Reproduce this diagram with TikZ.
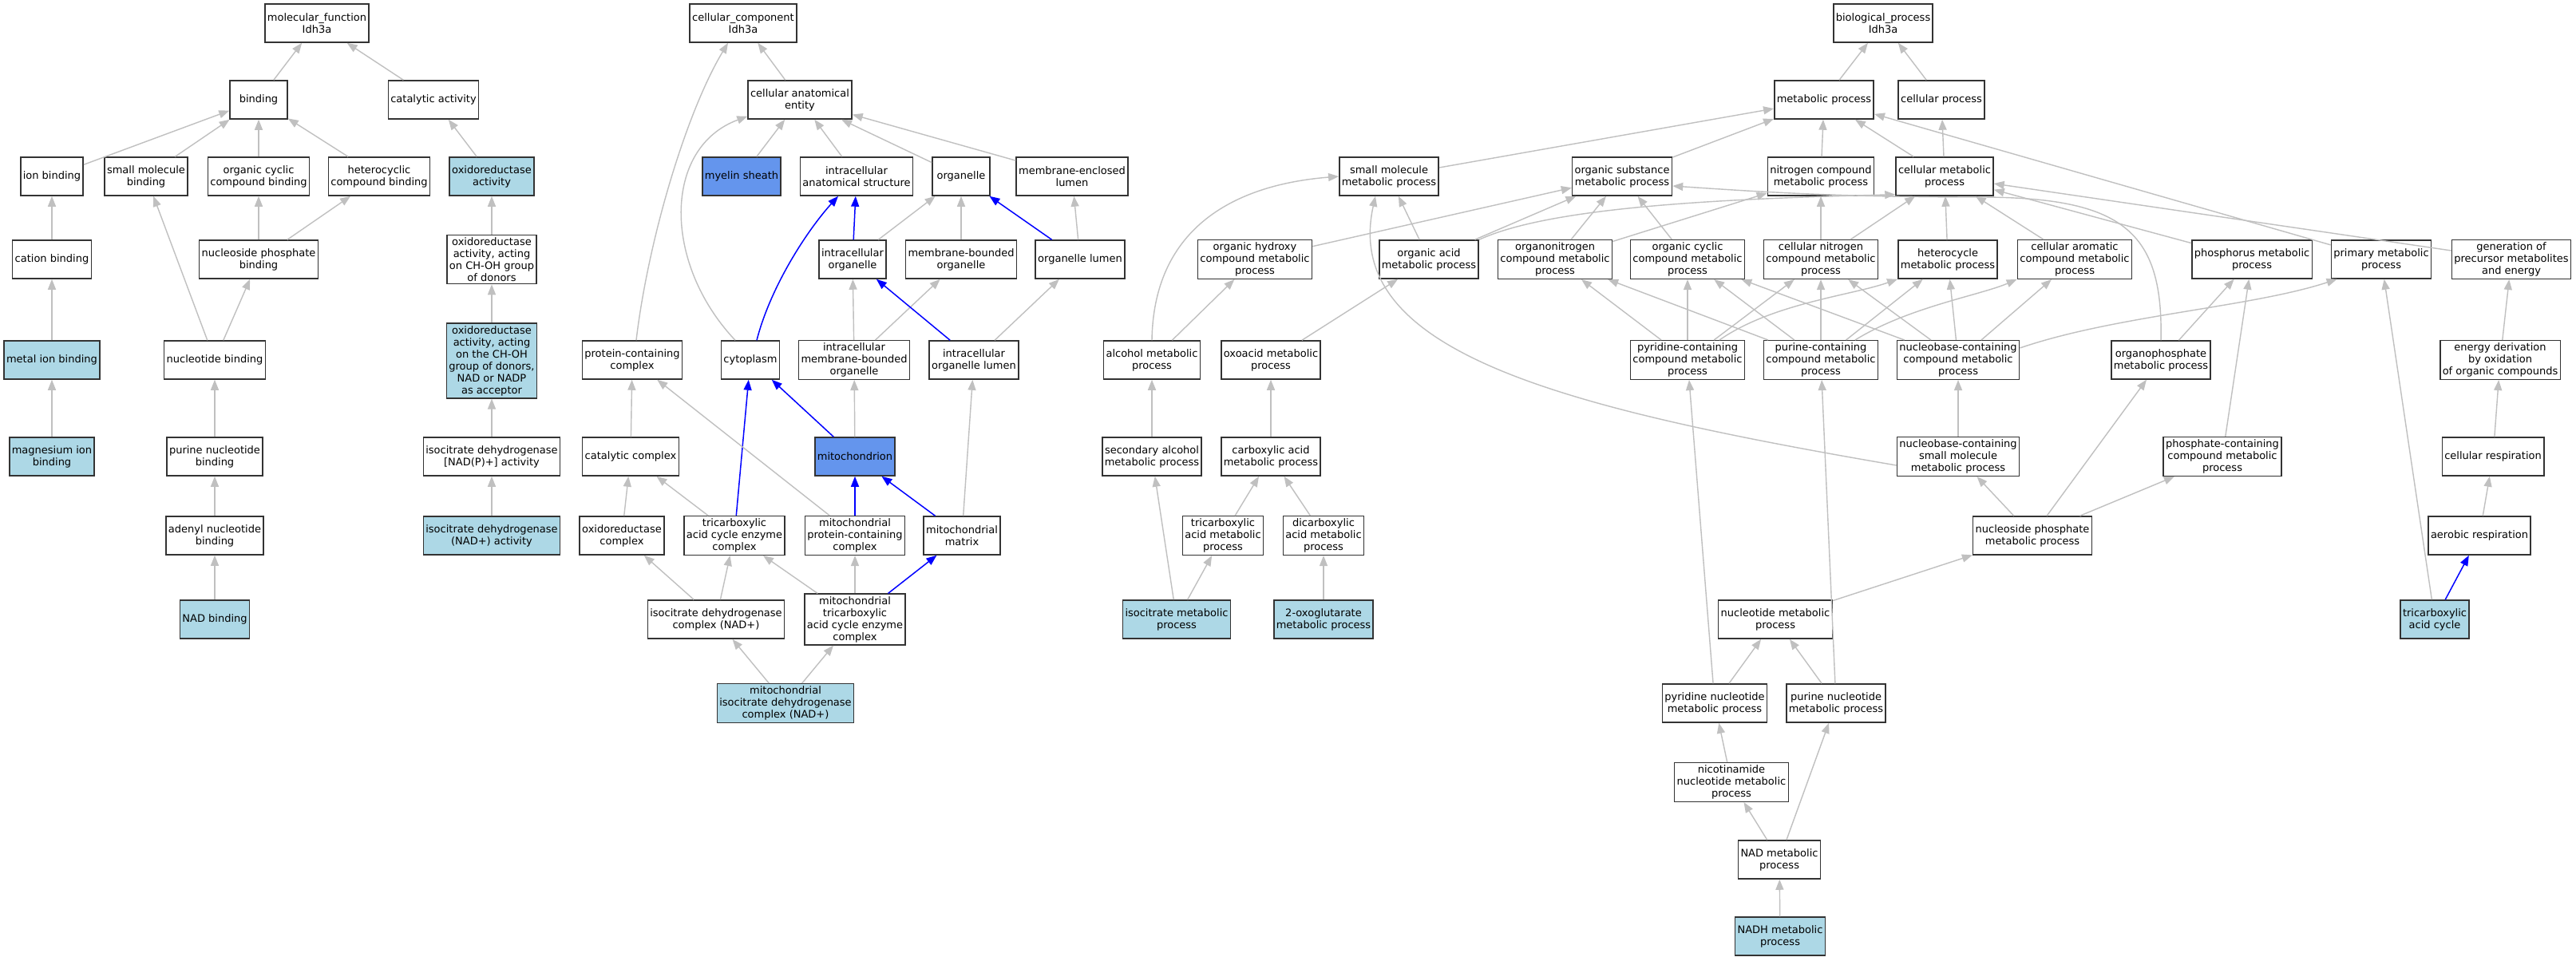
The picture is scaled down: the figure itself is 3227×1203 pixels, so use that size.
\documentclass[tikz,border=0pt]{standalone}
\usepackage{fontspec}
\setmainfont{DejaVu Sans}
\usetikzlibrary{arrows.meta}
\definecolor{edgegray}{RGB}{192,192,192}
\definecolor{termblue}{RGB}{173,216,230}
\definecolor{hitblue}{RGB}{100,149,237}

\begin{document}
\begin{tikzpicture}[x=1pt,y=-1pt,
  term/.style={draw=black!80,line width=1.5pt,fill=white,minimum width=72pt,minimum height=48pt,
    inner xsep=3pt,inner ysep=3pt,align=center,font=\fontsize{13}{15}\selectfont},
  hit/.style={term,fill=termblue},
  cellhit/.style={term,fill=hitblue},
  isa/.style={draw=edgegray,line width=1.4pt,-{Triangle[length=13pt,width=10pt]}},
  partof/.style={draw=blue,line width=1.5pt,-{Triangle[length=13pt,width=10pt]}}]
\useasboundingbox[fill=white] (0,0) rectangle (3227,1203);

% molecular function
\node[term] (mf) at (397,29) {molecular\_function\\Idh3a};
\node[term] (binding) at (324,125) {binding};
\node[term] (catact) at (543,125) {catalytic activity};
\node[term] (ionb) at (65,221) {ion binding};
\node[term] (smolb) at (183,221) {small molecule\\binding};
\node[term] (ocycb) at (324,221) {organic cyclic\\compound binding};
\node[term] (hcycb) at (475,221) {heterocyclic\\compound binding};
\node[hit] (oxred) at (616,221) {oxidoreductase\\activity};
\node[term] (cationb) at (65,325) {cation binding};
\node[term] (nphosb) at (324,325) {nucleoside phosphate\\binding};
\node[term] (oxchoh) at (616,325) {oxidoreductase\\activity, acting\\on CH-OH group\\of donors};
\node[hit] (metalb) at (65,451) {metal ion binding};
\node[term] (nucb) at (269,451) {nucleotide binding};
\node[hit] (oxnad) at (616,452) {oxidoreductase\\activity, acting\\on the CH-OH\\group of donors,\\NAD or NADP\\as acceptor};
\node[hit] (mgb) at (65,572) {magnesium ion\\binding};
\node[term] (purnb) at (269,572) {purine nucleotide\\binding};
\node[term] (idhnadp) at (616,572) {isocitrate dehydrogenase\\{[NAD(P)+]} activity};
\node[term] (adenb) at (269,671) {adenyl nucleotide\\binding};
\node[hit] (idhnad) at (616,671) {isocitrate dehydrogenase\\(NAD+) activity};
\node[hit] (nadb) at (269,776) {NAD binding};

% cellular component
\node[term] (cc) at (931,29) {cellular\_component\\Idh3a};
\node[term] (cae) at (1002,125) {cellular anatomical\\entity};
\node[cellhit] (myelin) at (929,221) {myelin sheath};
\node[term] (ias) at (1073,221) {intracellular\\anatomical structure};
\node[term] (organelle) at (1204,221) {organelle};
\node[term] (mel) at (1343,221) {membrane-enclosed\\lumen};
\node[term] (iorg) at (1068,325) {intracellular\\organelle};
\node[term] (mbo) at (1204,325) {membrane-bounded\\organelle};
\node[term] (olumen) at (1353,325) {organelle lumen};
\node[term] (protc) at (792,451) {protein-containing\\complex};
\node[term] (cyto) at (940,451) {cytoplasm};
\node[term] (imbo) at (1070,451) {intracellular\\membrane-bounded\\organelle};
\node[term] (iol) at (1220,451) {intracellular\\organelle lumen};
\node[term] (catc) at (790,572) {catalytic complex};
\node[cellhit] (mito) at (1071,572) {mitochondrion};
\node[term] (oxc) at (779,671) {oxidoreductase\\complex};
\node[term] (tcac) at (920,671) {tricarboxylic\\acid cycle enzyme\\complex};
\node[term] (mprot) at (1071,671) {mitochondrial\\protein-containing\\complex};
\node[term] (mmatrix) at (1205,671) {mitochondrial\\matrix};
\node[term] (idhc) at (897,776) {isocitrate dehydrogenase\\complex (NAD+)};
\node[term] (mtcac) at (1071,776) {mitochondrial\\tricarboxylic\\acid cycle enzyme\\complex};
\node[hit] (midhc) at (984,881) {mitochondrial\\isocitrate dehydrogenase\\complex (NAD+)};

% biological process
\node[term] (bp) at (2359,29) {biological\_process\\Idh3a};
\node[term] (metp) at (2285,125) {metabolic process};
\node[term] (cellp) at (2432,125) {cellular process};
\node[term] (smp) at (1740,221) {small molecule\\metabolic process};
\node[term] (osmp) at (2032,221) {organic substance\\metabolic process};
\node[term] (ncmp) at (2281,221) {nitrogen compound\\metabolic process};
\node[term] (cmp) at (2436,221) {cellular metabolic\\process};
\node[term] (ohcmp) at (1572,325) {organic hydroxy\\compound metabolic\\process};
\node[term] (oamp) at (1790,325) {organic acid\\metabolic process};
\node[term] (onmp) at (1948,325) {organonitrogen\\compound metabolic\\process};
\node[term] (occmp) at (2114,325) {organic cyclic\\compound metabolic\\process};
\node[term] (cncmp) at (2281,325) {cellular nitrogen\\compound metabolic\\process};
\node[term] (hmp) at (2440,325) {heterocycle\\metabolic process};
\node[term] (camp) at (2599,325) {cellular aromatic\\compound metabolic\\process};
\node[term] (phmp) at (2821,325) {phosphorus metabolic\\process};
\node[term] (primp) at (2983,325) {primary metabolic\\process};
\node[term] (gpme) at (3146,325) {generation of\\precursor metabolites\\and energy};
\node[term] (alcmp) at (1443,451) {alcohol metabolic\\process};
\node[term] (oxomp) at (1592,451) {oxoacid metabolic\\process};
\node[term] (pycmp) at (2114,451) {pyridine-containing\\compound metabolic\\process};
\node[term] (pucmp) at (2281,451) {purine-containing\\compound metabolic\\process};
\node[term] (nbcmp) at (2453,451) {nucleobase-containing\\compound metabolic\\process};
\node[term] (opmp) at (2707,451) {organophosphate\\metabolic process};
\node[term] (edox) at (3132,451) {energy derivation\\by oxidation\\of organic compounds};
\node[term] (salcmp) at (1443,572) {secondary alcohol\\metabolic process};
\node[term] (caamp) at (1592,572) {carboxylic acid\\metabolic process};
\node[term] (nbsmp) at (2453,572) {nucleobase-containing\\small molecule\\metabolic process};
\node[term] (pcmp) at (2784,572) {phosphate-containing\\compound metabolic\\process};
\node[term] (cresp) at (3123,572) {cellular respiration};
\node[term] (tcamp) at (1532,671) {tricarboxylic\\acid metabolic\\process};
\node[term] (dcamp) at (1658,671) {dicarboxylic\\acid metabolic\\process};
\node[term] (nspmp) at (2546,671) {nucleoside phosphate\\metabolic process};
\node[term] (aresp) at (3106,671) {aerobic respiration};
\node[hit] (icmp) at (1474,776) {isocitrate metabolic\\process};
\node[hit] (oxgmp) at (1658,776) {2-oxoglutarate\\metabolic process};
\node[term] (ntmp) at (2224,776) {nucleotide metabolic\\process};
\node[hit] (tca) at (3050,776) {tricarboxylic\\acid cycle};
\node[term] (pynmp) at (2148,881) {pyridine nucleotide\\metabolic process};
\node[term] (punmp) at (2300,881) {purine nucleotide\\metabolic process};
\node[term] (nicmp) at (2169,980) {nicotinamide\\nucleotide metabolic\\process};
\node[term] (nadmp) at (2229,1077) {NAD metabolic\\process};
\node[hit] (nadhmp) at (2230,1173) {NADH metabolic\\process};

% molecular function edges
\draw[isa] (binding) -- (mf);
\draw[isa] (catact) -- (mf);
\draw[isa] (ionb) -- (binding);
\draw[isa] (smolb) -- (binding);
\draw[isa] (ocycb) -- (binding);
\draw[isa] (hcycb) -- (binding);
\draw[isa] (oxred) -- (catact);
\draw[isa] (cationb) -- (ionb);
\draw[isa] (nphosb) -- (ocycb);
\draw[isa] (nphosb) -- (hcycb);
\draw[isa] (oxchoh) -- (oxred);
\draw[isa] (metalb) -- (cationb);
\draw[isa] (nucb) -- (smolb);
\draw[isa] (nucb) -- (nphosb);
\draw[isa] (oxnad) -- (oxchoh);
\draw[isa] (mgb) -- (metalb);
\draw[isa] (purnb) -- (nucb);
\draw[isa] (idhnadp) -- (oxnad);
\draw[isa] (adenb) -- (purnb);
\draw[isa] (idhnad) -- (idhnadp);
\draw[isa] (nadb) -- (adenb);

% cellular component edges
\draw[isa] (cae) -- (cc);
\draw[isa] ([xshift=5pt]protc.north) .. controls (812,300) and (860,140) .. ([xshift=-19pt]cc.south);
\draw[isa] (myelin) -- (cae);
\draw[isa] (ias) -- (cae);
\draw[isa] (organelle) -- (cae);
\draw[isa] (mel) -- (cae);
\draw[isa] ([xshift=-19pt]cyto.north) .. controls (830,330) and (830,185) .. ([yshift=4pt]cae.south west);
\draw[partof] (iorg) -- (ias);
\draw[isa] (iorg) -- (organelle);
\draw[isa] (mbo) -- (organelle);
\draw[partof] (olumen) -- (organelle);
\draw[isa] (olumen) -- (mel);
\draw[partof] ([xshift=8pt]cyto.north) .. controls (965,360) and (1010,290) .. ([xshift=-23pt]ias.south);
\draw[isa] (imbo) -- (iorg);
\draw[isa] (imbo) -- (mbo);
\draw[partof] (iol) -- (iorg);
\draw[isa] (iol) -- (olumen);
\draw[isa] (catc) -- (protc);
\draw[partof] (mito) -- (cyto);
\draw[isa] (mito) -- (imbo);
\draw[isa] (tcac) -- (catc);
\draw[partof] (tcac) -- (cyto);
\draw[isa] (mprot) -- (protc);
\draw[partof] (mprot) -- (mito);
\draw[partof] (mmatrix) -- (mito);
\draw[isa] (mmatrix) -- (iol);
\draw[isa] (oxc) -- (catc);
\draw[isa] (idhc) -- (oxc);
\draw[isa] (idhc) -- (tcac);
\draw[isa] (mtcac) -- (tcac);
\draw[isa] (mtcac) -- (mprot);
\draw[partof] (mtcac) -- (mmatrix);
\draw[isa] (midhc) -- (idhc);
\draw[isa] (midhc) -- (mtcac);

% biological process edges
\draw[isa] (metp) -- (bp);
\draw[isa] (cellp) -- (bp);
\draw[isa] (smp) -- (metp);
\draw[isa] (osmp) -- (metp);
\draw[isa] (ncmp) -- (metp);
\draw[isa] (cmp) -- (metp);
\draw[isa] (cmp) -- (cellp);
\draw[isa] (primp) -- (metp);
\draw[isa] (ohcmp) -- (osmp);
\draw[isa] (oamp) -- (smp);
\draw[isa] (oamp) -- (osmp);
\draw[isa] (oamp.north east) .. controls (1930,265) and (2100,250) .. ([yshift=2pt]cmp.south west);
\draw[isa] (onmp) -- (osmp);
\draw[isa] (onmp) -- (ncmp);
\draw[isa] (occmp) -- (osmp);
\draw[isa] (cncmp) -- (ncmp);
\draw[isa] (cncmp) -- (cmp);
\draw[isa] (hmp) -- (cmp);
\draw[isa] (camp) -- (cmp);
\draw[isa] (phmp) -- (cmp);
\draw[isa] (gpme) -- (cmp);
\draw[isa] (alcmp.north) .. controls (1445,290) and (1540,232) .. (smp.west);
\draw[isa] (alcmp) -- (ohcmp);
\draw[isa] (oxomp) -- (oamp);
\draw[isa] (pycmp) -- (onmp);
\draw[isa] (pycmp) -- (occmp);
\draw[isa] (pycmp) -- (cncmp);
\draw[isa] ([xshift=40pt]pycmp.north) .. controls (2220,380) and (2320,370) .. (hmp.south west);
\draw[isa] (pucmp) -- (onmp);
\draw[isa] (pucmp) -- (occmp);
\draw[isa] (pucmp) -- (cncmp);
\draw[isa] (pucmp) -- (hmp);
\draw[isa] ([xshift=43pt]pucmp.north) .. controls (2390,385) and (2480,370) .. (camp.south west);
\draw[isa] (nbcmp) -- (occmp);
\draw[isa] (nbcmp) -- (cncmp);
\draw[isa] (nbcmp) -- (hmp);
\draw[isa] (nbcmp) -- (camp);
\draw[isa] ([yshift=15pt]nbcmp.east) .. controls (2650,395) and (2820,385) .. ([xshift=8pt]primp.south west);
\draw[isa] (opmp.north) .. controls (2710,290) and (2660,247) .. (2480,247) .. controls (2300,247) and (2200,240) .. ([yshift=-12pt]osmp.east);
\draw[isa] (opmp) -- (phmp);
\draw[isa] (edox) -- (gpme);
\draw[isa] (salcmp) -- (alcmp);
\draw[isa] (caamp) -- (oxomp);
\draw[isa] ([yshift=-11pt]nbsmp.west) .. controls (1950,510) and (1680,440) .. ([xshift=-17pt]smp.south);
\draw[isa] (nbsmp) -- (nbcmp);
\draw[isa] (pcmp) -- (phmp);
\draw[isa] (cresp) -- (edox);
\draw[isa] (tcamp) -- (caamp);
\draw[isa] (dcamp) -- (caamp);
\draw[isa] (nspmp) -- (nbsmp);
\draw[isa] (nspmp) -- (opmp);
\draw[isa] (nspmp) -- (pcmp);
\draw[isa] (aresp) -- (cresp);
\draw[isa] (icmp) -- (salcmp);
\draw[isa] (icmp) -- (tcamp);
\draw[isa] (oxgmp) -- (dcamp);
\draw[isa] (ntmp) -- (nspmp);
\draw[partof] (tca) -- (aresp);
\draw[isa] (tca) -- (primp);
\draw[isa] (pynmp) -- (pycmp);
\draw[isa] (pynmp) -- (ntmp);
\draw[isa] (punmp) -- (pucmp);
\draw[isa] (punmp) -- (ntmp);
\draw[isa] (nicmp) -- (pynmp);
\draw[isa] (nadmp) -- (nicmp);
\draw[isa] (nadmp) -- (punmp);
\draw[isa] (nadhmp) -- (nadmp);
\end{tikzpicture}
\end{document}
